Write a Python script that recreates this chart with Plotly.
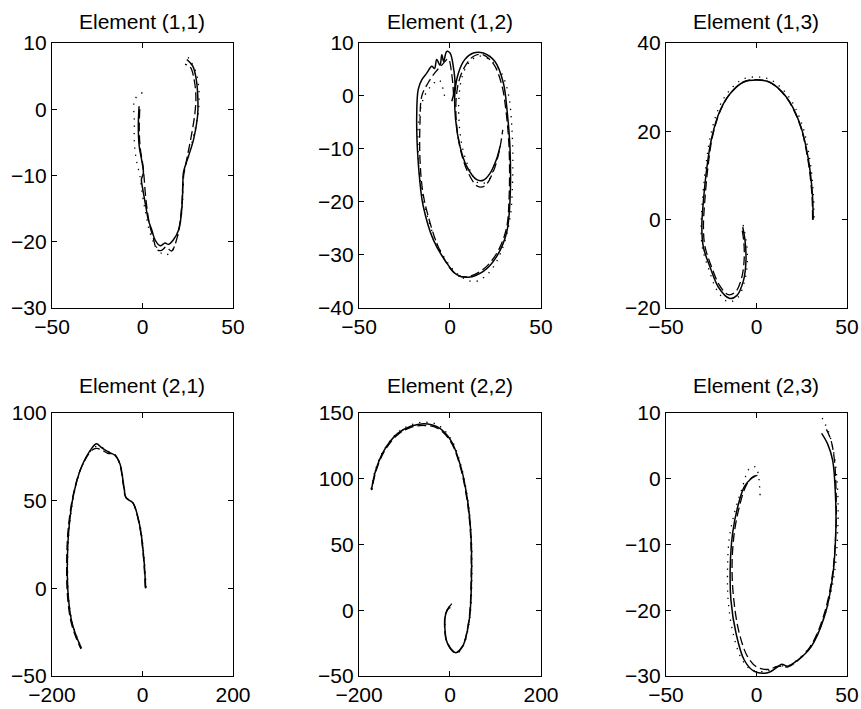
import plotly.graph_objects as go

# ---------------- data ----------------
titles = ["Element (1,1)", "Element (1,2)", "Element (1,3)",
          "Element (2,1)", "Element (2,2)", "Element (2,3)"]

x_ranges = [[-50, 50], [-50, 50], [-50, 50], [-200, 200], [-200, 200], [-50, 50]]
y_ranges = [[-30, 10], [-40, 10], [-20, 40], [-50, 100], [-50, 150], [-30, 10]]
x_ticks = [[-50, 0, 50], [-50, 0, 50], [-50, 0, 50], [-200, 0, 200], [-200, 0, 200], [-50, 0, 50]]
y_ticks = [[-30, -20, -10, 0, 10], [-40, -30, -20, -10, 0, 10], [-20, 0, 20, 40],
           [-50, 0, 50, 100], [-50, 0, 50, 100, 150], [-30, -20, -10, 0, 10]]

# Element (1,1)
solid11_x = [-1.9, -2.3, -1.8, -0.5, 0.5, -0.6, 0.1, 1.8, 3.2, 5.1, 6.9, 9.7, 12.5, 14.3, 17.1, 20, 21.7, 22.3, 22.6, 25.4, 28.2, 30.4, 30.6, 29.7, 27.8, 24.5]
solid11_y = [0.45, -2.6, -5.6, -7.6, -9.6, -10.6, -12, -14.6, -16.7, -18.2, -19.7, -20.6, -20.2, -20.4, -19.7, -18.2, -15.1, -11.6, -9.6, -7.1, -4.6, -1.1, 1.5, 4.5, 6.5, 7.5]
dash11_x = [-1.5, -1.8, -1.2, 0, 0.8, 1.5, 2.5, 4, 6, 8, 10.5, 13, 16, 18.5, 20.5, 21.8, 22.5, 24.5, 27, 29, 29.5, 28.5, 26.5, 23.5]
dash11_y = [0, -3, -6, -8, -10, -12.5, -15, -17.5, -19.5, -21.2, -21.3, -20.8, -21.4, -20, -17.5, -14, -10.5, -7.5, -4, -0.5, 2, 4.5, 6.3, 6.8]
dot11_x = [0, -4.2, -4.5, -4.5, -3.5, -1.5, 0, 2, 4, 7, 12, 16, 19, 21.5, 22.5, 23, 26, 29, 31, 31, 29, 24]
dot11_y = [2.5, 1.5, -2, -5, -7.5, -10, -13, -16, -18.5, -20.5, -22, -21.5, -19.5, -16, -12, -9.5, -6.5, -3, 0, 3.5, 6, 8.3]

# Element (1,2)
solid12_x = [1, 2.7, 1.8, 0, -1.8, -3.5, -4.5, -5.5, -7.3, -8.5, -10, -12.8, -15.6, -17.5, -18.3, -17.9, -16.5, -14.7, -9.2, -1.8, 3.7, 10, 18.3, 25.6, 31.1, 33, 33, 31.5, 29.3, 24.7, 18.3, 12.8, 8.2, 4.6, 2.7, 3.1, 5.5, 9.2, 14.7, 18.3, 22, 25.5, 27.5]
solid12_y = [-1, 1.8, 5.6, 8.1, 8.4, 6.5, 7.8, 5.8, 6.9, 5.2, 5.6, 4.3, 3, 1.2, -3.8, -10.1, -16.4, -20.8, -27.1, -31.5, -33.7, -34.2, -33.1, -30.3, -25.8, -19.6, -10.1, -3.2, 2.5, 6.5, 8.1, 8.1, 6.9, 4.3, 0.6, -4.5, -9.5, -13.3, -15.8, -15.9, -14.6, -12, -9.5]
dash12_x = [2, 1, -1, -4, -8, -12, -15.5, -16.5, -16.5, -15, -12.5, -7, 0, 5, 11, 19, 26, 31, 32.5, 32.5, 31, 28.5, 24, 18, 13, 9, 5.5, 3.5, 3.5, 6, 10, 15, 19, 23.5, 27, 29]
dash12_y = [0, 4, 7, 6, 4.5, 2.5, 0, -5, -12, -18, -22, -28, -32.5, -34, -34, -32.5, -29.5, -25, -19, -10, -3.5, 2, 6, 7.8, 7.5, 6, 3.5, 0, -5, -10.5, -14.5, -17, -17, -14.5, -10.5, -6.4]
dot12_x = [-3, -6, -10, -14, -17, -17.5, -16, -13, -7, 1, 8, 14, 21, 28, 33, 34.5, 34, 32, 28, 22, 16, 11, 7, 5, 5, 7, 11, 16, 21, 25]
dot12_y = [0, 3, 2, 0, -4, -11, -17, -22, -28, -32.5, -34.5, -35, -33.5, -29.5, -23, -14, -6, 0.5, 4.5, 6.8, 7.5, 6.5, 4, 0, -5, -10, -14, -16.5, -16, -12]

# Element (1,3)
solid13_x = [31.3, 30.9, 28.5, 24, 16.6, 7.4, 0.1, -7.3, -14.6, -20.1, -24.7, -27.4, -29.3, -30.2, -29.3, -25.6, -21, -15, -10.9, -7.2, -5.8, -6.3, -7.6]
solid13_y = [0, 5.8, 14.1, 21.7, 27.7, 31.1, 31.6, 31.1, 28.5, 24.7, 18.6, 11.8, 4.3, -1.7, -6.3, -10.8, -15.3, -17.8, -17.2, -13.8, -9.3, -4.8, -1.7]
dash13_x = [31, 30.6, 28.2, 23.8, 16.4, 7.2, 0, -7.2, -14.4, -19.8, -24.3, -26.8, -28.5, -29.3, -28.5, -25, -20.5, -15.5, -11.5, -8.2, -6.8, -7, -8]
dash13_y = [0, 5.8, 14.1, 21.7, 27.7, 31.1, 31.7, 31.2, 28.6, 24.8, 18.8, 12, 4.5, -1.5, -6, -10.5, -14.8, -17, -16.3, -13.2, -9, -5, -2.2]
dot13_x = [31.8, 31.4, 29.2, 24.8, 17.2, 7.6, 0, -7.6, -15.2, -20.8, -25.4, -28, -29.8, -30.6, -29.8, -26.3, -21.5, -15.5, -10.3, -6.5, -5, -5.8, -7.5]
dot13_y = [0.5, 6, 14.3, 22, 28.2, 31.7, 32.3, 31.8, 29.1, 25.3, 19, 12.1, 4.5, -1.6, -6.5, -11.3, -16.2, -18.6, -17.6, -13.8, -9, -4.5, -1]

# Element (2,1)
solid21_x = [7, 3.3, -5.5, -20.3, -28, -36.6, -41, -49.9, -61, -75.8, -90.6, -101.7, -112.7, -134.9, -151.9, -162.3, -166, -164.5, -157.1, -146, -134.9]
solid21_y = [0, 16.1, 35.1, 48.4, 50, 51.7, 57.8, 71.1, 75.9, 77.8, 80.2, 82.5, 79.7, 69.2, 54, 35, 16.1, -2.9, -18.1, -27.5, -34.2]
dash21_x = [6, 2.5, -6.5, -21, -28.5, -37.5, -42, -51, -62, -77, -92, -103, -114, -136, -153, -164, -167.5, -166, -158.5, -147, -136]
dash21_y = [0.5, 16.5, 35.5, 48.8, 50.3, 52.2, 58.5, 71.5, 76.5, 77, 79.2, 79.8, 78.2, 68.5, 53.5, 34.5, 15.5, -3.5, -18.5, -28, -34.5]
dot21_x = [8, 4, -5, -20, -28, -36, -40.5, -49.5, -60.5, -75, -90, -101, -112, -134, -151, -161.5, -165.5, -164, -156.5, -145.5, -134]
dot21_y = [0.5, 16.3, 35.2, 48.2, 50.2, 51.5, 57.5, 71, 76.2, 78, 80.5, 81, 79.2, 69.5, 54.2, 35.2, 16.2, -2.8, -18, -27.3, -34]

# Element (2,2)
solid22_x = [2, -1.8, -9.2, -11.4, -5.5, 12.8, 27.5, 42.2, 47.3, 45.9, 38.5, 23.9, 1.8, -27.5, -56.9, -86.2, -115.6, -144.9, -163.3, -172.8]
solid22_y = [4, 2.7, -2.4, -12.5, -25.2, -32.3, -27.7, -7.5, 25.4, 58.4, 83.7, 109, 129.2, 139.4, 141.9, 139.9, 134.3, 121.6, 106.5, 91.3]
dash22_x = [1, -2.5, -10, -12, -6, 12, 27, 41.5, 46.5, 45, 37.5, 23, 1, -28, -57, -86, -115, -144, -162.5, -172]
dash22_y = [2, 1.5, -3, -12.5, -25, -32, -27.5, -7.5, 25.4, 58.4, 83.5, 108.5, 128.5, 138.5, 140.5, 139, 133.5, 121, 106, 91.5]
dot22_x = [4, 0, -8.5, -10.8, -4.8, 13.5, 28.2, 43, 48, 46.6, 39.2, 24.6, 2.5, -27, -56.5, -86, -115.8, -145.3, -164, -173.5]
dot22_y = [5, 3.5, -2, -12.5, -25.5, -32.8, -28, -7.5, 25.4, 58.4, 84, 109.5, 130, 141, 143, 141, 135, 122, 107, 91.8]

# Element (2,3)
solid23_x = [-0.6, -3, -6.7, -10.4, -13.2, -14.5, -14.1, -11.3, -6.7, -1.2, 6.2, 11.7, 14, 17.2, 22.7, 30.1, 37.5, 42.1, 43.9, 43.6, 42.1, 39.3, 36]
solid23_y = [0.4, 0, -1.2, -4.3, -8.3, -13.4, -18.5, -23.5, -27.6, -29.3, -29.5, -28.6, -28.2, -28.5, -27.6, -25.6, -21, -14.9, -7.3, -2.3, 2.8, 5.3, 6.9]
dash23_x = [0.5, -2.5, -6, -9.5, -12.3, -13.5, -12.5, -9.5, -5, 0, 6.5, 12, 17.5, 23.5, 30.5, 37.5, 42, 44, 44, 43, 41, 37.5]
dash23_y = [0.5, 0.2, -1.2, -4.3, -8.3, -13.4, -18.5, -23.5, -27, -28.6, -29, -28.5, -28.6, -27.5, -25.2, -20.5, -14.5, -7, -2, 3, 6, 8.1]
dot23_x = [2, -0.5, -4, -8, -12, -15, -16, -15.5, -12.5, -8, -3, 5, 12, 18, 24, 31, 38, 43, 45, 44.8, 43, 40, 36]
dot23_y = [-2.5, 1.8, 1.5, -1.5, -5, -9, -14, -19, -24, -27.5, -29, -29.3, -28.5, -28.4, -27.2, -25, -20.5, -14.5, -7, -1.5, 3.5, 7, 9.4]

solid_x = [solid11_x, solid12_x, solid13_x, solid21_x, solid22_x, solid23_x]
solid_y = [solid11_y, solid12_y, solid13_y, solid21_y, solid22_y, solid23_y]
dash_x = [dash11_x, dash12_x, dash13_x, dash21_x, dash22_x, dash23_x]
dash_y = [dash11_y, dash12_y, dash13_y, dash21_y, dash22_y, dash23_y]
dot_x = [dot11_x, dot12_x, dot13_x, dot21_x, dot22_x, dot23_x]
dot_y = [dot11_y, dot12_y, dot13_y, dot21_y, dot22_y, dot23_y]

# ---------------- layout ----------------
col_dom = [[0.0604, 0.2706], [0.4170, 0.6283], [0.7735, 0.9837]]
row_dom = [[0.5656, 0.9394], [0.0465, 0.4175]]
title_y = [0.969, 0.4563]
FONT = "Liberation Sans, Arial, Helvetica, sans-serif"
FS = 21

fig = go.Figure()
layout = dict(
    width=861, height=709,
    margin=dict(l=0, r=0, t=0, b=0, autoexpand=False),
    paper_bgcolor="white", plot_bgcolor="white",
    showlegend=False,
    font=dict(family=FONT, size=FS, color="black"),
    annotations=[],
)

for i in range(6):
    r, c = divmod(i, 3)
    n = "" if i == 0 else str(i + 1)
    xa, ya = "x" + n, "y" + n
    common = dict(showline=True, linecolor="black", linewidth=1.2, mirror="ticks",
                  ticks="inside", ticklen=5, tickcolor="black", tickwidth=1,
                  showgrid=False, zeroline=False, automargin=False,
                  tickfont=dict(family=FONT, size=FS, color="black"))
    layout["xaxis" + n] = dict(domain=col_dom[c], range=x_ranges[i], tickmode="array",
                               tickvals=x_ticks[i], anchor=ya, **common)
    layout["yaxis" + n] = dict(domain=row_dom[r], range=y_ranges[i], tickmode="array",
                               tickvals=y_ticks[i], anchor=xa, **common)
    layout["annotations"].append(dict(
        text=titles[i], x=(col_dom[c][0] + col_dom[c][1]) / 2, y=title_y[r],
        xref="paper", yref="paper", xanchor="center", yanchor="middle",
        showarrow=False, font=dict(family=FONT, size=FS, color="black")))

    fig.add_trace(go.Scatter(x=dot_x[i], y=dot_y[i], mode="lines", xaxis=xa, yaxis=ya,
                             line=dict(color="black", width=1.3, dash="1.3px,6px", shape="spline", smoothing=1.0)))
    fig.add_trace(go.Scatter(x=dash_x[i], y=dash_y[i], mode="lines", xaxis=xa, yaxis=ya,
                             line=dict(color="black", width=1.3, dash="9px,4px", shape="spline", smoothing=1.0)))
    fig.add_trace(go.Scatter(x=solid_x[i], y=solid_y[i], mode="lines", xaxis=xa, yaxis=ya,
                             line=dict(color="black", width=1.5, shape="spline", smoothing=1.0)))

fig.update_layout(**layout)
fig.write_html("out.html", config={"displayModeBar": False},
               post_script="document.body.style.margin='0';document.body.style.overflow='hidden';")
